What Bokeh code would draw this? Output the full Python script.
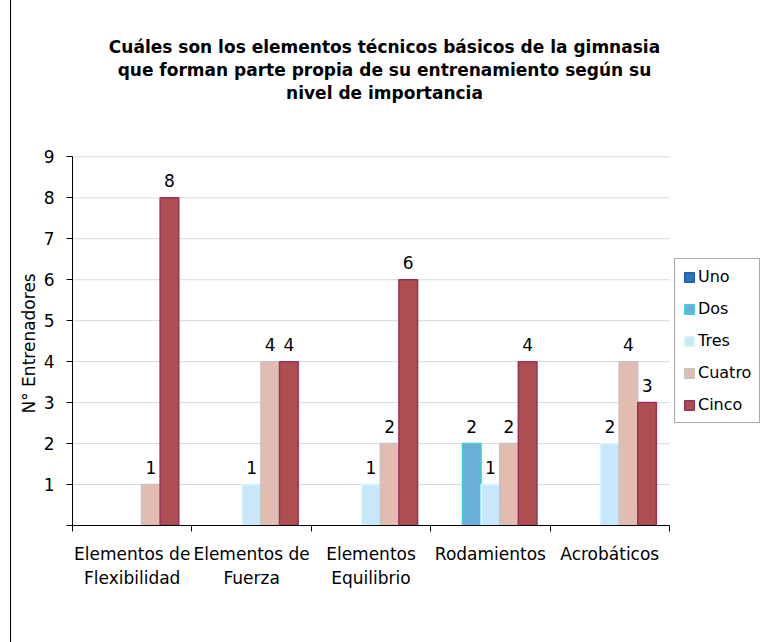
import math
from bokeh.plotting import figure
from bokeh.models import (ColumnDataSource, FixedTicker, Legend, LegendItem, Label, Title)
from bokeh.embed import file_html
from bokeh.resources import INLINE

categories = ["Elementos de\nFlexibilidad", "Elementos de\nFuerza", "Elementos\nEquilibrio",
              "Rodamientos", "Acrobáticos"]
series_names = ["Uno", "Dos", "Tres", "Cuatro", "Cinco"]
uno = [0, 0, 0, 0, 0]
dos = [0, 0, 0, 2, 0]
tres = [0, 1, 1, 1, 2]
cuatro = [1, 4, 2, 2, 4]
cinco = [8, 4, 6, 4, 3]
y_ticks = [0, 1, 2, 3, 4, 5, 6, 7, 8, 9]
title_lines = ["Cuáles son los elementos técnicos básicos de la gimnasia",
               "que forman parte propia de su entrenamiento según su",
               "nivel de importancia"]
y_title = "N° Entrenadores"

series_values = [uno, dos, tres, cuatro, cinco]
fills = ["#2f72bd", "#6aafd9", "#c9e7fb", "#e3bcb1", "#ad4f50"]
lines = ["#1f5fa8", "#3fd0d0", "#d6f6fb", "#c8c2c2", "#99305c"]

FONT = "DejaVu Sans"
n = len(categories)
ymax = y_ticks[-1]
bw = 0.156

# the frame is extended right and up so that legend and title can live inside it
p = figure(width=751, height=642, x_range=(0, 5.779), y_range=(0, 12.5),
           output_backend="svg", toolbar_location=None,
           min_border_left=61, min_border_right=0, min_border_top=13, min_border_bottom=117)
p.styles = {"margin-left": "10px", "border-left": "1px solid #000000"}
p.outline_line_color = None
p.background_fill_color = "white"
p.border_fill_color = "white"
p.title.visible = False
p.xgrid.grid_line_color = None
p.ygrid.grid_line_color = None

# horizontal gridlines across the category span only
grid_src = ColumnDataSource(dict(y=y_ticks[1:], x0=[0] * (len(y_ticks) - 1),
                                 x1=[n] * (len(y_ticks) - 1)))
p.segment(x0="x0", y0="y", x1="x1", y1="y", source=grid_src,
          line_color="#d9d9d9", line_width=1)

# x axis: labels at centres, tick marks at category boundaries
centers = [i + 0.5 for i in range(n)]
p.xaxis.bounds = (0, n)
p.xaxis.ticker = FixedTicker(ticks=centers, minor_ticks=list(range(n + 1)))
p.xaxis.major_label_overrides = {c: lab for c, lab in zip(centers, categories)}
p.xaxis.major_tick_out = 0
p.xaxis.major_tick_in = 0
p.xaxis.minor_tick_out = 6
p.xaxis.minor_tick_in = 0
p.xaxis.minor_tick_line_color = "#000000"
p.xaxis.axis_line_color = "#000000"
p.xaxis.major_label_text_font = FONT
p.xaxis.major_label_text_font_size = "17px"
p.xaxis.major_label_text_color = "#000000"
p.xaxis.major_label_standoff = 12

p.yaxis.bounds = (0, ymax)
p.yaxis.ticker = FixedTicker(ticks=y_ticks, minor_ticks=[])
p.yaxis.major_label_overrides = {0: ""}
p.yaxis.major_tick_out = 6
p.yaxis.major_tick_in = 0
p.yaxis.axis_line_color = "#000000"
p.yaxis.major_tick_line_color = "#000000"
p.yaxis.major_label_text_font = FONT
p.yaxis.major_label_text_font_size = "17px"
p.yaxis.major_label_text_color = "#000000"
p.yaxis.major_label_standoff = 12

# y-axis title, centred on the 0..9 span rather than on the whole frame
p.add_layout(Title(text=y_title, align="left", offset=112, text_font=FONT,
                   text_font_size="17px", text_font_style="normal",
                   text_color="#000000", standoff=4), "left")

items = []
for k, (name, vals) in enumerate(zip(series_names, series_values)):
    off = (k - 2) * bw
    xs = [c + off for c in centers]
    tops = [v if v > 0 else math.nan for v in vals]
    labels = [str(v) if v > 0 else "" for v in vals]
    src = ColumnDataSource(dict(x=xs, top=tops, label=labels))
    r = p.vbar(x="x", top="top", width=bw, bottom=0, source=src,
               fill_color=fills[k], line_color=lines[k], line_width=1.5)
    p.text(x="x", y="top", text="label", source=src, text_align="center",
           text_baseline="bottom", y_offset=-11, text_font_size="17px",
           text_color="#000000", text_font={"value": FONT})
    items.append(LegendItem(label=name, renderers=[r]))

legend = Legend(items=items, location=(602, 102), orientation="vertical",
                label_text_font=FONT, label_text_font_size="16px",
                label_text_color="#000000",
                glyph_width=12, glyph_height=12, spacing=13, padding=8,
                margin=0, label_standoff=3,
                border_line_color="#555555", border_line_width=1,
                background_fill_alpha=1)
p.add_layout(legend, "center")

# title: three centred bold lines above the plotted area
for i, line in enumerate(title_lines):
    p.add_layout(Label(x=2.613, y=11.69 - i * 0.56, text=line, text_align="center",
                       text_baseline="middle", text_font=FONT, text_font_size="17px",
                       text_font_style="bold", text_color="#000000"))

open("out.html", "w").write(file_html(p, INLINE))
